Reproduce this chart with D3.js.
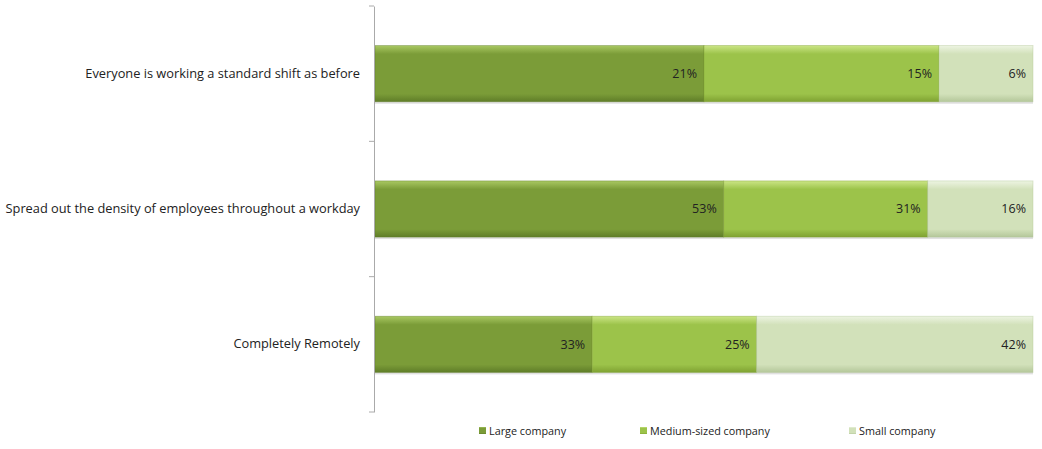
<!DOCTYPE html>
<html>
<head>
<meta charset="utf-8">
<script src="https://cdn.jsdelivr.net/npm/d3@7"></script>
<style>
  body { margin: 0; background: #fff; }
  text { font-family: "Open Sans", sans-serif; }
</style>
</head>
<body>
<script>
// Chart data
const categories = [
  "Everyone is working a standard shift as before",
  "Spread out the density of employees throughout a workday",
  "Completely Remotely"
];
const seriesNames = ["Large company", "Medium-sized company", "Small company"];
const large = [21, 53, 33];
const medium = [15, 31, 25];
const small = [6, 16, 42];

const width = 1042, height = 449;
const margin = { top: 6, right: 9, bottom: 37, left: 375 };

const svg = d3.select("body").append("svg")
  .attr("width", width)
  .attr("height", height);

// Gradients for the glossy bar look
const colors = [
  { base: "#7b9c38", light: "#a9c862", dark: "#5f7d28" },
  { base: "#9cc34a", light: "#cbe585", dark: "#7fa232" },
  { base: "#d2e1ba", light: "#edf4e2", dark: "#b4c79a" }
];
const defs = svg.append("defs");
colors.forEach((c, i) => {
  const g = defs.append("linearGradient")
    .attr("id", "grad" + i)
    .attr("x1", 0).attr("y1", 0).attr("x2", 0).attr("y2", 1);
  g.append("stop").attr("offset", "0%").attr("stop-color", c.light);
  g.append("stop").attr("offset", "15%").attr("stop-color", c.base);
  g.append("stop").attr("offset", "86%").attr("stop-color", c.base);
  g.append("stop").attr("offset", "100%").attr("stop-color", c.dark);
});

// Build stacked (100%) rows
const rows = categories.map((cat, i) => {
  const vals = [large[i], medium[i], small[i]];
  const total = d3.sum(vals);
  let acc = 0;
  return {
    cat,
    segs: vals.map((v, k) => {
      const s = { key: k, value: v, x0: acc / total, x1: (acc + v) / total };
      acc += v;
      return s;
    })
  };
});

const x = d3.scaleLinear()
  .domain([0, 1])
  .range([margin.left, width - margin.right]);

const y = d3.scaleBand()
  .domain(categories)
  .range([margin.top, height - margin.bottom])
  .paddingInner(0.585)
  .paddingOuter(0.2925);

// Bars
const rowG = svg.append("g")
  .selectAll("g")
  .data(rows)
  .join("g")
  .attr("transform", d => `translate(0,${y(d.cat)})`);

// soft shadow under each bar
rowG.append("rect")
  .attr("x", x(0))
  .attr("y", 2)
  .attr("width", x(1) - x(0))
  .attr("height", y.bandwidth())
  .attr("fill", "#000")
  .attr("opacity", 0.12);

rowG.selectAll("rect.seg")
  .data(d => d.segs)
  .join("rect")
  .attr("class", "seg")
  .attr("x", d => x(d.x0))
  .attr("y", 0)
  .attr("width", d => x(d.x1) - x(d.x0))
  .attr("height", y.bandwidth())
  .attr("fill", d => `url(#grad${d.key})`)
  .attr("stroke", d => colors[d.key].dark)
  .attr("stroke-opacity", 0.5)
  .attr("stroke-width", 0.8);

rowG.selectAll("text.val")
  .data(d => d.segs)
  .join("text")
  .attr("class", "val")
  .attr("x", d => x(d.x1) - 7)
  .attr("y", y.bandwidth() / 2)
  .attr("dy", "0.35em")
  .attr("text-anchor", "end")
  .style("font-size", "12.5px")
  .style("fill", "#222")
  .text(d => d.value + "%");

// Category axis
const yAxis = d3.axisLeft(y).tickSize(0).tickPadding(14);
const axisG = svg.append("g")
  .attr("transform", `translate(${margin.left - 1},0)`)
  .call(yAxis);
axisG.select(".domain").attr("stroke", "#aaa");
axisG.selectAll("text")
  .style("font-size", "12.8px")
  .style("fill", "#222")
  .style("font-family", '"Open Sans", sans-serif');

// boundary ticks between categories
const boundaries = d3.range(categories.length + 1)
  .map(i => margin.top + i * y.step());
svg.append("g")
  .selectAll("line")
  .data(boundaries)
  .join("line")
  .attr("x1", margin.left - 6)
  .attr("x2", margin.left - 1)
  .attr("y1", d => d)
  .attr("y2", d => d)
  .attr("stroke", "#aaa");

// Legend
const legendX = [479, 640, 849];
const legend = svg.append("g")
  .selectAll("g")
  .data(seriesNames)
  .join("g")
  .attr("transform", (d, i) => `translate(${legendX[i]},${height - 13})`);
legend.append("rect")
  .attr("x", 0).attr("y", -9)
  .attr("width", 7).attr("height", 7)
  .attr("fill", (d, i) => `url(#grad${i})`);
legend.append("text")
  .attr("x", 10)
  .attr("y", -5)
  .attr("dy", "0.35em")
  .style("font-size", "10.8px")
  .style("fill", "#222")
  .text(d => d);
</script>
</body>
</html>
